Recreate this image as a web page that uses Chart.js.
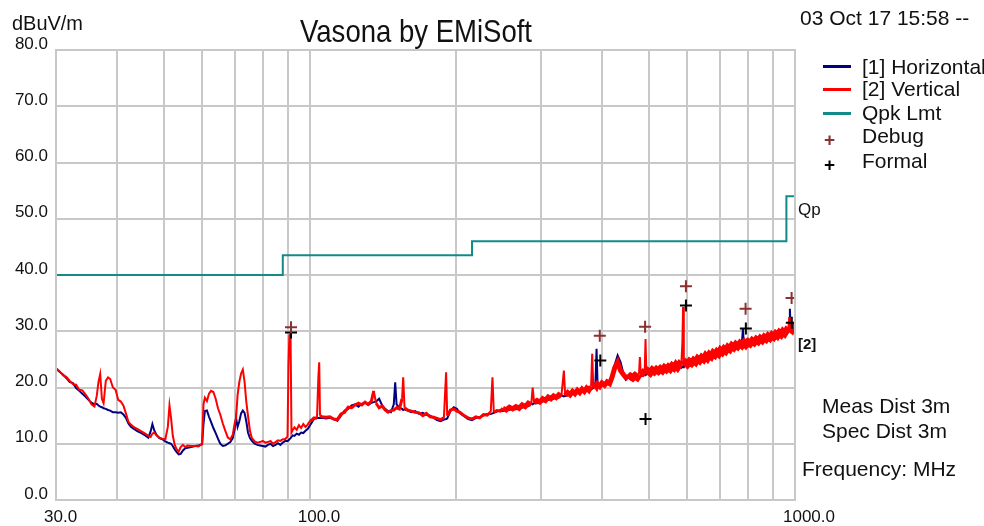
<!DOCTYPE html>
<html>
<head>
<meta charset="utf-8">
<script src="https://cdn.jsdelivr.net/npm/chart.js@4.4.1/dist/chart.umd.min.js"></script>
<style>
  body { margin: 0; background: #fff; }
  #wrap { position: relative; width: 984px; height: 526px; overflow: hidden; }
  .txt { position: absolute; white-space: nowrap; color: #111;
         font-family: "Liberation Sans", Arial, sans-serif; line-height: 1; transform-origin: 0 0; }
  .sw { position: absolute; height: 3px; width: 28px; }
</style>
</head>
<body>
<div id="wrap">
  <canvas id="myChart" width="984" height="526"></canvas>
  <div class="txt" style="left:12px;top:12px;font-size:21px;transform:scaleX(0.95);">dBuV/m</div>
  <div class="txt" style="left:300px;top:15px;font-size:32px;transform:scaleX(0.86);">Vasona by EMiSoft</div>
  <div class="txt" style="left:800px;top:7px;font-size:21px;">03 Oct 17 15:58 --</div>

  <div class="sw" style="left:823px;top:65px;background:#000080;"></div>
  <div class="sw" style="left:823px;top:88px;background:#ff0000;"></div>
  <div class="sw" style="left:823px;top:112px;background:#138a8a;"></div>
  <div class="txt" style="left:862px;top:56px;font-size:21px;">[1] Horizontal</div>
  <div class="txt" style="left:862px;top:78px;font-size:21px;">[2] Vertical</div>
  <div class="txt" style="left:862px;top:102px;font-size:21px;">Qpk Lmt</div>
  <div class="txt" style="left:862px;top:125px;font-size:21px;">Debug</div>
  <div class="txt" style="left:862px;top:150px;font-size:21px;">Formal</div>
  <div class="txt" style="left:824px;top:130px;font-size:19px;color:#8b3030;font-weight:bold;">+</div>
  <div class="txt" style="left:824px;top:155px;font-size:19px;color:#000;font-weight:bold;">+</div>

  <div class="txt" style="left:798px;top:201px;font-size:17px;">Qp</div>
  <div class="txt" style="left:798px;top:336px;font-size:15px;font-weight:bold;">[2]</div>
  <div class="txt" style="left:822px;top:395px;font-size:21px;">Meas Dist 3m</div>
  <div class="txt" style="left:822px;top:420px;font-size:21px;">Spec Dist 3m</div>
  <div class="txt" style="left:802px;top:458px;font-size:21px;">Frequency: MHz</div>
</div>
<script>
// frequency grid (MHz) shared by both traces
var freqs = [30.0,30.5,31.0,31.5,32.0,32.5,33.0,33.5,34.0,34.5,35.0,35.5,36.0,36.4,36.7,37.0,37.3,37.6,38.0,38.4,
  38.8,39.3,39.8,40.3,40.8,41.3,41.8,42.3,42.8,43.5,44.2,45.0,45.8,46.5,47.0,47.4,47.8,48.3,49.0,49.7,
  50.4,51.0,51.4,51.8,52.2,52.7,53.2,53.7,54.2,54.8,55.4,56.0,57.0,58.0,59.0,60.0,60.4,60.8,61.4,62.0,
  62.6,63.3,64.0,64.7,65.4,66.2,67.0,67.8,68.6,69.4,70.0,70.5,71.0,71.6,72.2,72.8,73.4,74.0,74.6,75.3,
  76.0,77.0,78.0,79.0,80.0,81.0,82.0,83.0,84.0,85.0,86.0,87.0,88.0,89.0,90.0,90.4,90.8,91.3,91.7,92.2,
  93.0,94.0,95.0,96.0,97.0,98.0,99.0,100.0,101.0,102.0,103.5,104.2,104.6,105.0,106,108,110,112,114,116,
  118,120,122,124,126,128,130,132,134,135.5,137,139,141,143,145,147,149,150,151,153,
  155,155.8,156.8,159,162,165,168,171,174,177,180,183,186,189,191,192,195,198,201,204,
  208,212,216,220,224,228,232,236,238,239.5,243,247,250,254,258,262,266,270,274,278,
  282,286,288,290,294,298,302,306,310,314,318,322,326,330,334,336,340,344,348,352,
  356,360,364,368,372,376,380,382,384,388,390,392,396,400,405,410,415,420,425,431,
  437,443,448,453,458,463,468,473,477,479,481,486,490,492,494,498,503,508,513,518,
  523,528,533,538,543,548,553,558,563,568,573,578,583,586,588,590,595,600,606,612,
  618,624,630,636,642,648,654,660,666,672,678,684,690,696,702,708,714,720,727,734,
  741,748,755,762,770,777,781,785,792,800,808,816,824,832,840,848,856,864,872,880,
  888,896,904,912,920,928,936,944,952,960,968,973,976,980,986,992,1000];

// [1] Horizontal, dBuV/m
var horizontal = [23.4,22.8,22.3,21.7,21.0,20.8,19.9,19.4,18.9,18.4,17.8,17.3,17.0,17.1,16.8,16.6,16.5,16.3,16.2,16.0,
  15.9,15.6,15.6,15.5,15.6,15.2,14.6,13.6,13.0,12.6,12.2,11.9,11.5,11.1,12.2,13.5,12.4,11.6,11.0,10.8,
  10.4,10.2,10.1,10.0,9.6,9.0,8.5,8.1,8.2,8.8,9.2,9.3,9.4,9.6,9.7,9.9,13.5,15.8,15.9,14.8,
  13.9,12.8,11.9,10.9,10.0,9.6,9.7,10.0,10.3,11.0,12.5,14.6,13.0,14.0,15.4,15.9,15.5,14.0,12.0,11.0,
  10.5,10.0,9.8,9.7,9.6,9.5,9.8,10.0,9.6,9.8,10.1,9.8,10.2,10.5,10.5,10.6,10.8,11.0,11.2,11.5,
  11.4,11.8,11.6,12.0,11.9,12.3,12.6,13.2,13.8,14.4,14.6,14.6,14.6,14.6,14.6,14.5,14.6,14.4,14.1,15.0,
  15.9,16.2,16.8,17.0,16.6,17.1,17.3,16.9,17.3,17.4,17.5,18.0,16.8,16.2,15.8,15.6,17.0,20.9,17.0,16.4,
  16.2,16.0,16.1,15.9,15.6,15.8,15.3,15.5,15.1,15.0,14.6,14.2,14.0,14.3,14.4,14.5,15.8,16.5,16.2,15.4,
  14.9,14.4,14.2,14.6,14.7,15.0,15.3,15.3,15.4,15.5,15.7,16.0,15.8,16.2,16.0,16.4,16.1,16.5,16.4,16.8,
  16.7,17.1,17.0,17.2,17.2,17.6,17.5,17.9,17.8,18.2,18.0,18.4,18.2,18.6,18.4,18.5,18.6,18.9,18.8,19.1,
  19.0,19.3,19.2,19.5,19.4,19.7,19.6,19.8,19.9,21.0,26.9,20.2,20.0,20.4,20.3,20.6,20.5,22.0,24.0,25.7,
  24.5,22.5,21.4,21.8,21.5,21.9,21.6,22.0,21.7,21.9,22.0,22.1,22.4,22.2,22.3,22.6,22.4,22.7,22.5,22.8,
  22.6,22.9,22.7,23.1,22.9,23.2,23.0,23.4,23.2,23.5,23.3,23.7,23.5,23.7,23.6,23.8,24.0,23.8,24.2,24.0,
  24.4,24.2,24.6,24.4,24.9,24.7,25.1,24.9,25.4,25.2,25.6,25.4,25.9,25.7,26.1,25.9,26.4,26.2,26.7,26.5,
  27.0,26.8,27.2,27.0,27.4,27.8,30.4,27.4,27.7,27.5,27.9,27.7,28.1,27.9,28.3,28.1,28.5,28.3,28.7,28.5,
  28.9,28.7,29.1,28.9,29.3,29.1,29.5,29.3,29.7,29.5,29.9,30.2,34.0,30.0,30.1,30.3,30.2];

// [2] Vertical, dBuV/m
var vertical = [23.4,22.9,22.2,21.9,21.2,20.6,20.5,19.6,19.5,18.8,18.0,17.0,16.6,18.5,21.0,22.4,18.0,17.2,21.2,21.8,
  21.5,20.0,19.6,17.8,17.5,16.8,15.4,13.9,13.4,12.9,12.6,12.2,11.8,11.4,11.2,11.8,12.0,11.5,11.1,10.9,
  10.8,13.0,16.8,14.5,11.5,9.8,9.0,8.6,9.4,9.8,9.4,9.7,9.6,9.6,9.5,10.0,17.0,18.2,17.6,18.9,
  19.4,19.2,18.0,16.3,15.2,13.6,12.3,11.1,10.8,11.6,13.5,14.6,18.6,21.0,22.5,23.2,21.0,17.5,15.0,12.3,
  11.0,10.4,10.2,10.3,10.5,10.2,10.3,10.5,10.0,10.3,10.6,10.5,10.8,10.8,11.3,24.0,29.3,29.5,12.0,12.4,
  12.9,12.5,13.3,12.8,13.5,13.0,13.4,14.0,14.2,14.6,14.6,22.0,24.5,15.0,14.8,14.7,14.8,14.4,14.3,15.3,
  15.6,16.5,16.4,16.9,17.2,16.9,17.4,17.0,17.6,19.4,17.2,16.4,16.7,16.0,15.6,15.9,16.0,16.2,16.4,16.2,
  18.0,21.8,16.4,16.0,15.8,15.6,15.5,15.0,15.4,14.8,14.7,14.5,14.3,14.6,22.7,15.0,16.0,16.2,15.8,15.6,
  15.0,14.6,14.4,14.8,14.6,15.2,15.1,15.6,21.8,15.6,15.9,15.8,16.3,16.0,16.5,16.2,16.6,16.3,16.9,16.6,
  17.2,16.9,20.0,17.3,17.7,17.4,18.0,17.7,18.3,18.0,18.5,18.2,18.7,18.4,23.0,18.6,19.1,18.7,19.3,18.9,
  19.5,19.1,19.7,19.3,19.9,19.5,20.2,26.0,19.9,20.4,20.1,20.6,20.2,20.8,20.4,21.0,20.7,21.9,23.5,24.5,
  23.0,22.3,21.8,21.6,22.0,21.7,22.1,21.8,22.3,25.4,22.2,22.6,22.3,28.6,22.5,22.9,22.6,23.1,22.8,23.2,
  22.9,23.3,23.0,23.5,23.2,23.6,23.3,23.8,23.5,24.0,23.6,24.1,23.8,28.0,34.3,24.0,24.4,24.1,24.6,24.3,
  24.8,24.5,25.1,24.8,25.3,25.0,25.6,25.2,25.8,25.5,26.1,25.8,26.3,26.0,26.6,26.3,26.8,26.5,27.1,26.8,
  27.4,27.1,27.6,27.3,27.8,27.5,27.8,28.0,27.6,28.1,27.8,28.3,28.0,28.5,28.2,28.7,28.4,28.9,28.6,29.1,
  28.8,29.3,29.0,29.5,29.2,29.7,29.4,29.9,29.6,30.1,29.8,32.5,30.1,30.4,30.2,30.6,30.3];

// Qpk limit steps
var limitFreq = [30, 88, 88, 216, 216, 960, 960, 1000];
var limitLevel = [40, 40, 43.5, 43.5, 46, 46, 54, 54];

// marker readings
var debugFreq = [91.5, 396, 491, 596, 791, 984];
var debugLevel = [30.7, 29.2, 30.8, 38.0, 34.0, 35.9];
var formalFreq = [91.5, 397, 492, 596, 792, 985];
var formalLevel = [29.8, 24.8, 14.4, 34.6, 30.5, 31.5];

// axes
var xGrid = [30, 40, 50, 60, 70, 80, 90, 100, 200, 300, 400, 500, 600, 700, 800, 900, 1000];
var xTickValues = [30, 100, 1000];
var xTickLabels = ['30.0', '100.0', '1000.0'];
var yTicks = [0, 10, 20, 30, 40, 50, 60, 70, 80];

function pairs(xs, ys) {
	var out = [];
	for (var i = 0; i < xs.length; i++) {
		out.push({x: xs[i], y: ys[i]});
	}
	return out;
}

// trace gets fatter where the measurement noise band is wide, spikes stay thin
function traceWidth(base) {
	return function(seg) {
		var f = seg.p0.parsed.x;
		if (Math.abs(seg.p1.parsed.y - seg.p0.parsed.y) > 2) return 2;
		if (f < 100) return 2;
		if (f < 250) return 3;
		if (f < 450) return base - 2;
		return base;
	};
}

var tickFont = {family: '"Liberation Sans", Arial, sans-serif', size: 17};
var gridColor = '#c8c8c8';

var ctx = document.getElementById('myChart');
var myChart = new Chart(ctx, {
	type: 'line',
	data: {
		datasets: [
			{
				label: 'Debug',
				type: 'scatter',
				data: pairs(debugFreq, debugLevel),
				pointStyle: 'cross',
				pointRadius: 6,
				borderColor: '#8b3030',
				borderWidth: 2,
				order: 0
			},
			{
				label: 'Formal',
				type: 'scatter',
				data: pairs(formalFreq, formalLevel),
				pointStyle: 'cross',
				pointRadius: 6,
				borderColor: '#000000',
				borderWidth: 2,
				order: 1
			},
			{
				label: '[2] Vertical',
				data: pairs(freqs, vertical),
				borderColor: '#ff0000',
				borderWidth: 2,
				segment: {borderWidth: traceWidth(7)},
				pointRadius: 0,
				tension: 0,
				order: 2
			},
			{
				label: '[1] Horizontal',
				data: pairs(freqs, horizontal),
				borderColor: '#000080',
				borderWidth: 2,
				pointRadius: 0,
				tension: 0,
				order: 3
			},
			{
				label: 'Qpk Lmt',
				data: pairs(limitFreq, limitLevel),
				borderColor: '#138a8a',
				borderWidth: 2,
				pointRadius: 0,
				tension: 0,
				order: 4
			}
		]
	},
	options: {
		responsive: false,
		animation: false,
		events: [],
		layout: {padding: {left: 0, top: 50, right: 189, bottom: 0}},
		plugins: {
			legend: {display: false},
			title: {display: false},
			tooltip: {enabled: false}
		},
		scales: {
			x: {
				type: 'logarithmic',
				min: 30,
				max: 1000,
				afterBuildTicks: function(scale) {
					scale.ticks = xGrid.map(function(v) { return {value: v}; });
				},
				afterFit: function(scale) { scale.height = 26; },
				grid: {color: gridColor, lineWidth: 2, drawTicks: false},
				border: {color: gridColor, width: 2},
				ticks: {
					autoSkip: false,
					maxRotation: 0,
					align: 'start',
					labelOffset: -12,
					padding: 7,
					color: '#111',
					font: tickFont,
					callback: function(value) {
						var k = xTickValues.indexOf(value);
						return k >= 0 ? xTickLabels[k] : '';
					}
				}
			},
			y: {
				min: 0,
				max: 80,
				afterBuildTicks: function(scale) {
					scale.ticks = yTicks.map(function(v) { return {value: v}; });
				},
				afterFit: function(scale) { scale.width = 56; },
				grid: {color: gridColor, lineWidth: 2, drawTicks: false},
				border: {color: gridColor, width: 2},
				ticks: {
					labelOffset: -6,
					padding: 8,
					color: '#111',
					font: tickFont,
					callback: function(value) { return value.toFixed(1); }
				}
			}
		}
	},
	plugins: [{
		id: 'frame',
		afterDraw: function(chart) {
			var a = chart.chartArea, c = chart.ctx;
			c.save();
			c.strokeStyle = gridColor;
			c.lineWidth = 2;
			c.strokeRect(a.left, a.top, a.right - a.left, a.bottom - a.top);
			c.restore();
		}
	}]
});
</script>
</body>
</html>
